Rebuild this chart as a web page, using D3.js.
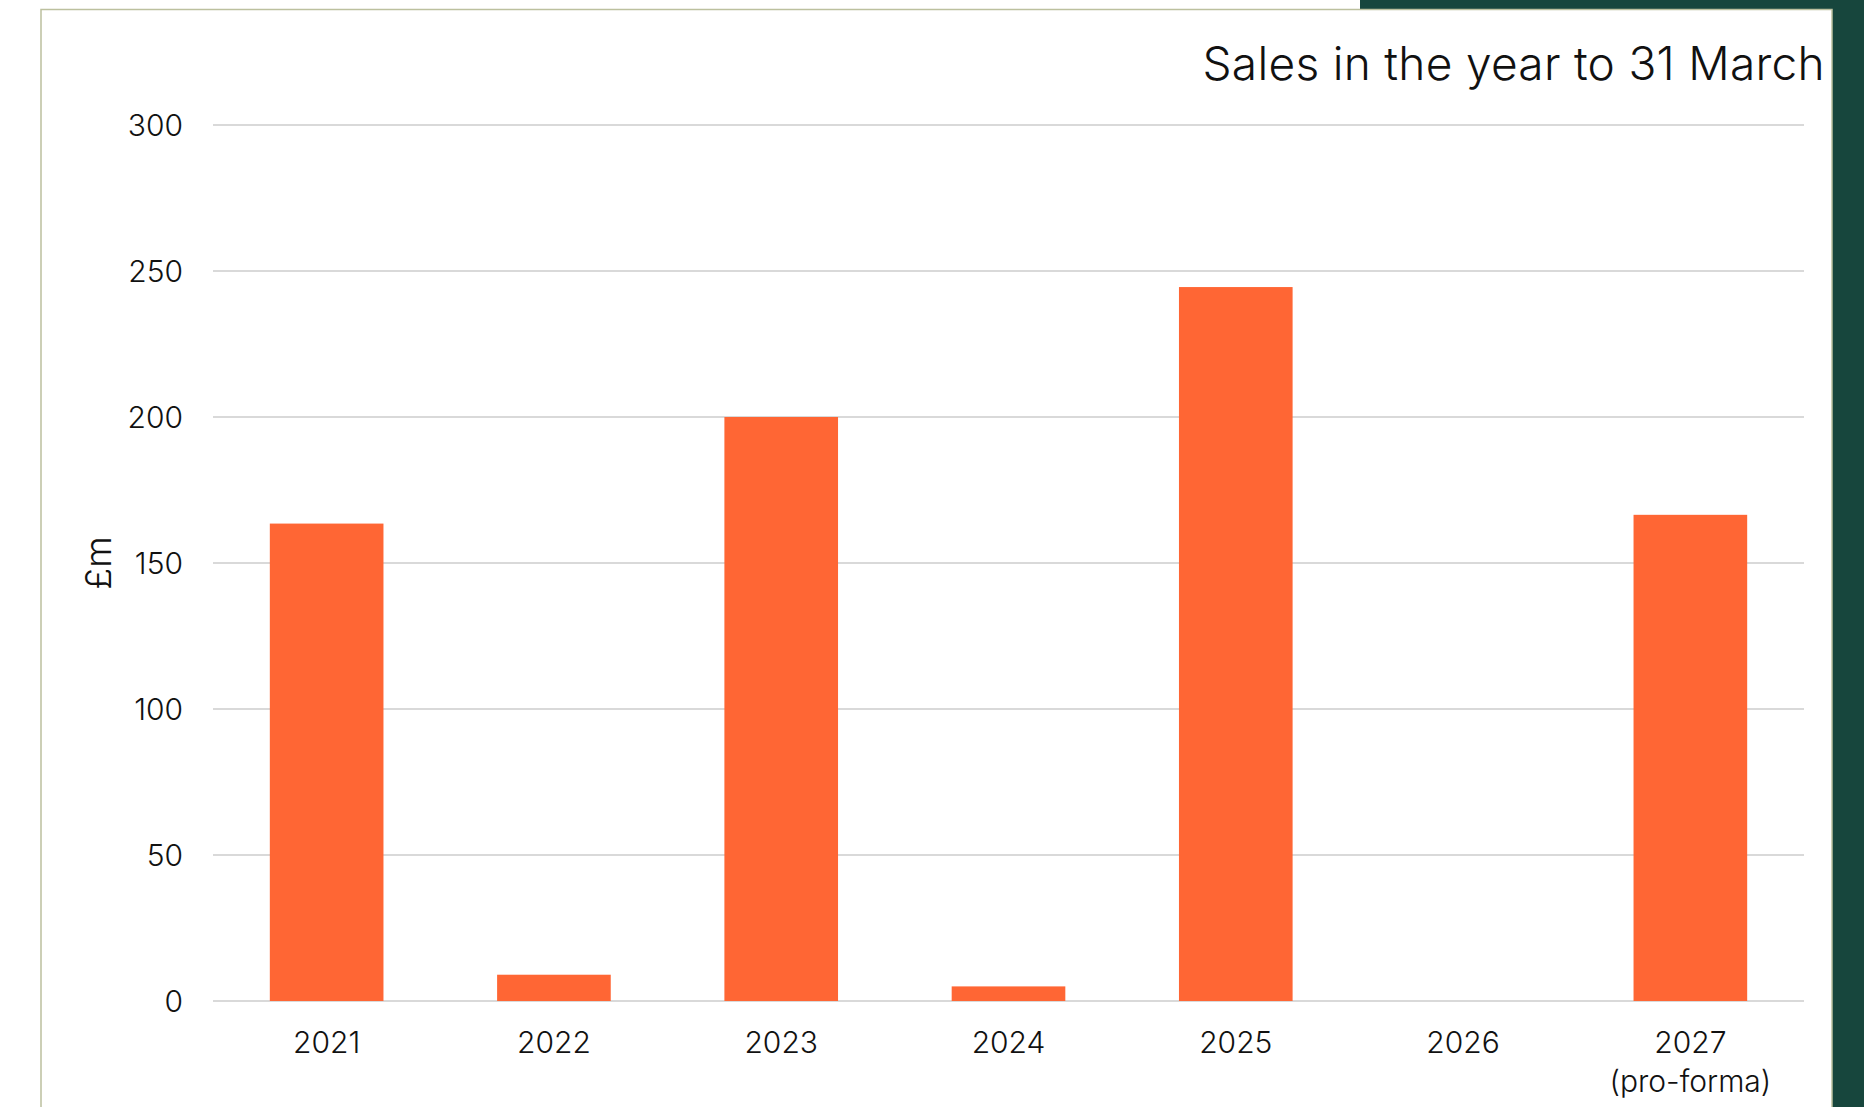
<!DOCTYPE html>
<html>
<head>
<meta charset="utf-8">
<script src="https://cdn.jsdelivr.net/npm/d3@7"></script>
<style>
  body { margin: 0; background: #fff; }
  svg { display: block; font-family: Inter, "Liberation Sans", Arial, sans-serif; font-weight: 300; }
  .axis text { fill: #111; }
</style>
</head>
<body>
<div id="viz"></div>
<script>
var years = ['2021', '2022', '2023', '2024', '2025', '2026', '2027'];
var sales = [163.5, 9, 200, 5, 244.5, 0, 166.5];
var subLabels = ['', '', '', '', '', '', '(pro-forma)'];
var yTicks = [0, 50, 100, 150, 200, 250, 300];

var W = 1864, H = 1107;
var margin = {top: 125, right: 60, bottom: 106, left: 213};

var svg = d3.select('#viz').append('svg')
    .attr('width', W)
    .attr('height', H);

// dark green slide frame + white panel
svg.append('rect').attr('x', 1360).attr('y', 0).attr('width', W - 1360).attr('height', H).attr('fill', '#17463d');
svg.append('rect').attr('x', 41).attr('y', 9.5).attr('width', 1832 - 41).attr('height', H)
    .attr('fill', '#fff').attr('stroke', '#bcc09e').attr('stroke-width', 1.5);

var x = d3.scaleBand()
    .domain(years)
    .range([margin.left, W - margin.right])
    .paddingInner(0.5)
    .paddingOuter(0.25);

var y = d3.scaleLinear()
    .domain([0, 300])
    .range([H - margin.bottom, margin.top]);

// gridlines
svg.append('g')
    .selectAll('line')
    .data(yTicks)
    .enter().append('line')
    .attr('x1', margin.left)
    .attr('x2', W - margin.right)
    .attr('y1', function(d) { return y(d); })
    .attr('y2', function(d) { return y(d); })
    .attr('stroke', '#d9d9d9')
    .attr('stroke-width', 2);

// y axis labels
var yAxis = svg.append('g')
    .attr('class', 'axis')
    .attr('transform', 'translate(' + margin.left + ',0)')
    .call(d3.axisLeft(y).tickValues(yTicks).tickSize(0).tickPadding(30));
yAxis.select('.domain').remove();
yAxis.selectAll('text').style('font-size', '30px').attr('dy', '0.35em');

// bars
svg.append('g')
    .selectAll('rect')
    .data(sales)
    .enter().append('rect')
    .attr('x', function(d, i) { return x(years[i]); })
    .attr('y', function(d) { return y(d); })
    .attr('width', x.bandwidth())
    .attr('height', function(d) { return y(0) - y(d); })
    .attr('fill', '#ff6634');

// x axis labels
var xAxis = svg.append('g')
    .attr('class', 'axis')
    .attr('transform', 'translate(0,' + y(0) + ')')
    .call(d3.axisBottom(x).tickSize(0).tickPadding(31));
xAxis.select('.domain').remove();
xAxis.selectAll('text').style('font-size', '30px');
xAxis.selectAll('.tick').append('text')
    .text(function(d, i) { return subLabels[i]; })
    .attr('y', 70)
    .attr('dy', '0.71em')
    .attr('fill', '#111')
    .style('font-size', '30px');
// d3 axis sets font-family on the group; use the page font instead
svg.selectAll('.axis').attr('font-family', null);

// y title
svg.append('text')
    .attr('transform', 'translate(111,563) rotate(-90)')
    .attr('text-anchor', 'middle')
    .style('font-size', '36px')
    .attr('fill', '#111')
    .text('£m');

// chart title
svg.append('text')
    .attr('x', 1825)
    .attr('y', 80)
    .attr('text-anchor', 'end')
    .style('font-size', '46px')
    .style('letter-spacing', '0.3px')
    .attr('fill', '#111')
    .text('Sales in the year to 31 March');
</script>
</body>
</html>
